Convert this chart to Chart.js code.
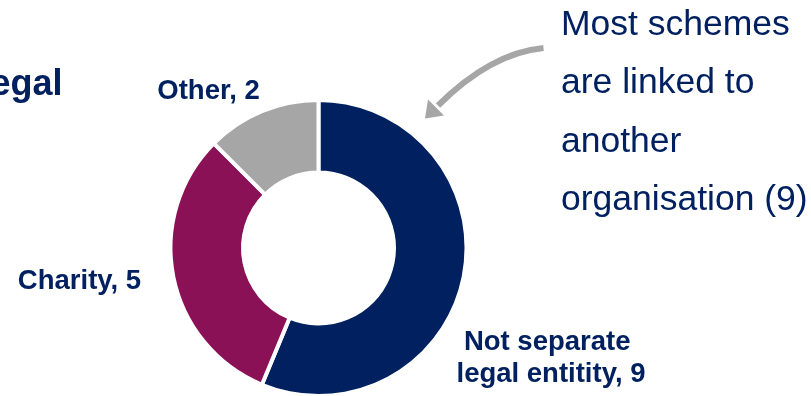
<!DOCTYPE html>
<html>
<head>
<meta charset="utf-8">
<style>
  html, body { margin: 0; padding: 0; background: #ffffff; }
  #wrap { width: 811px; height: 396px; position: relative; }
</style>
<script src="https://cdn.jsdelivr.net/npm/chart.js@4/dist/chart.umd.min.js"></script>
</head>
<body>
<div id="wrap"><canvas id="c"></canvas></div>
<script>
// Scheme counts by legal form
const categories = ['Not separate legal entitity', 'Charity', 'Other'];
const counts = [9, 5, 2];
const sliceColours = ['#002060', '#8B1156', '#A6A6A6'];

// Callout text on the right
const calloutLines = ['Most schemes', 'are linked to', 'another', 'organisation (' + counts[0] + ')'];
const headingText = 'legal';

const NAVY = '#002060';
const GREY = '#A6A6A6';
const FONT = '"Liberation Sans", Arial, sans-serif';

// Offsets of each slice label from the doughnut centre (first baseline, centre-aligned)
const labelOffsets = [
  { dx: 232.5, dy: 101.7 },
  { dx: -239, dy: 40.7 },
  { dx: -110, dy: -149.3 }
];

function wrapText(ctx, text, maxWidth) {
  const words = text.split(' ');
  const lines = [];
  let line = '';
  for (const w of words) {
    const test = line ? line + ' ' + w : w;
    if (line && ctx.measureText(test).width > maxWidth) {
      lines.push(line + ' ');
      line = w;
    } else {
      line = test;
    }
  }
  lines.push(line);
  return lines;
}

const annotations = {
  id: 'annotations',
  afterDraw(chart) {
    const ctx = chart.ctx;
    const meta = chart.getDatasetMeta(0);
    const arc0 = meta.data[0];
    const cx = arc0.x, cy = arc0.y;

    ctx.save();
    // slice labels
    ctx.fillStyle = NAVY;
    ctx.font = 'bold 27.5px ' + FONT;
    ctx.textAlign = 'center';
    ctx.textBaseline = 'alphabetic';
    categories.forEach((cat, i) => {
      const lines = wrapText(ctx, cat + ', ' + counts[i], 205);
      const off = labelOffsets[i];
      lines.forEach((ln, k) => {
        ctx.fillText(ln, cx + off.dx, cy + off.dy + k * 32);
      });
    });

    // heading fragment at the left edge
    ctx.font = 'bold 36px ' + FONT;
    ctx.textAlign = 'right';
    ctx.fillText(headingText, 62.5, 95);

    // callout text
    ctx.font = '35.5px ' + FONT;
    ctx.textAlign = 'left';
    const baselines = [35, 93.3, 151.7, 210];
    calloutLines.forEach((ln, k) => ctx.fillText(ln, 561, baselines[k]));

    // curved arrow pointing at the largest slice
    ctx.strokeStyle = GREY;
    ctx.fillStyle = GREY;
    ctx.lineWidth = 6;
    ctx.lineCap = 'butt';
    ctx.beginPath();
    ctx.moveTo(543.5, 48);
    ctx.quadraticCurveTo(491, 53, 438, 105.5);
    ctx.stroke();
    ctx.beginPath();
    ctx.moveTo(425, 118.5);
    ctx.lineTo(428, 99.5);
    ctx.lineTo(444, 115.5);
    ctx.closePath();
    ctx.fill();
    ctx.restore();
  }
};

new Chart(document.getElementById('c'), {
  type: 'doughnut',
  data: {
    labels: categories,
    datasets: [{
      data: counts,
      backgroundColor: sliceColours,
      borderColor: '#ffffff',
      borderWidth: 4,
      hoverOffset: 0
    }]
  },
  options: {
    responsive: true,
    maintainAspectRatio: false,
    animation: false,
    events: [],
    cutout: '51%',
    radius: 148,
    layout: { padding: { top: 100, bottom: 0, left: 171, right: 345 } },
    plugins: {
      legend: { display: false },
      tooltip: { enabled: false }
    }
  },
  plugins: [annotations]
});
</script>
</body>
</html>
